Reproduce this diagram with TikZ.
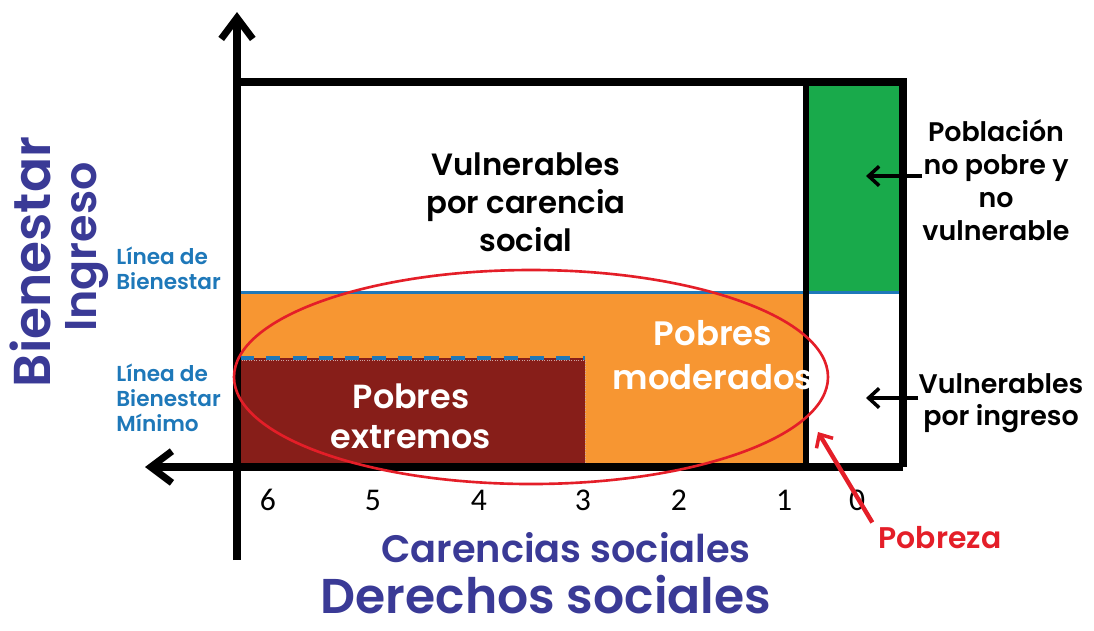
\documentclass[tikz,border=0pt]{standalone}
\usepackage{fontspec}
\setmainfont{Poppins}[UprightFont=* Medium, BoldFont=* SemiBold]
\newfontfamily\numfont{Carlito}
\usetikzlibrary{calc,arrows.meta}
\usepackage{xcolor}
\definecolor{indigo}{RGB}{58,58,150}
\definecolor{lineazul}{RGB}{30,120,185}
\definecolor{naranja}{RGB}{247,150,50}
\definecolor{vino}{RGB}{135,30,25}
\definecolor{verde}{RGB}{25,170,75}
\definecolor{rojo}{RGB}{228,30,40}
\tikzset{
  eje/.style={line width=4.5pt, -{Straight Barb[length=12pt,width=18pt,line width=4pt]}},
  flecha/.style={line width=2pt, -{Straight Barb[length=6pt,width=11pt,line width=2pt]}},
  rotulo/.style={align=center, inner sep=0pt},
  linea/.style={align=left, inner sep=0pt, text=lineazul, font=\bfseries\fontsize{12.3}{14.3}\selectfont},
  num/.style={inner sep=0pt, font=\numfont\fontsize{18}{18}\selectfont}
}

\begin{document}
\begin{tikzpicture}[x=0.02cm,y=-0.02cm]
			\useasboundingbox (0,0) rectangle (1094,630);
			\def\xl{237};
			\def\xr{903};
			\def\yt{82};
			\def\yb{467};
			\fill[naranja] (240,294) rectangle (804,465);
			\fill[vino] (240,358) rectangle (585,465);
			\draw[white!60!vino, densely dotted, thin] (240,360) rectangle (585,465);
			\draw[lineazul, line width=2.3pt, dash pattern=on 8pt off 7pt] (240,358) -- (585,358);
			\fill[verde] (808,85) rectangle (900,292);
			\draw[lineazul, line width=1.7pt] (\xl,292) -- (\xr,292);
			\draw[line width=3pt] (806,\yt) -- (806,\yb);
			\draw[line width=4.5pt] (\xl,\yt) -- (\xr,\yt) -- (\xr,\yb);
			\draw[eje] (\xl,560) -- (\xl,12);
			\draw[eje] (\xr,\yb) -- (145,\yb);
			\draw[rojo, line width=1.5pt] (531,377) ellipse [x radius=297, y radius=107];
			% textos
			\node[rotulo, font=\bfseries\fontsize{17.5}{21.5}\selectfont] (vulncar) at (526,202) {Vulnerables\\por carencia\\social};
			\node[rotulo, font=\bfseries\fontsize{15.3}{18.8}\selectfont] (nopobre) at (996,180) {Población\\no pobre y\\no\\vulnerable};
			\node[rotulo, font=\bfseries\fontsize{15.3}{18.5}\selectfont] (vulning) at (1001,403) {Vulnerables\\por ingreso};
			\node[rotulo, text=white, font=\bfseries\fontsize{19.3}{25}\selectfont] (moderados) at (713,355) {Pobres\\moderados};
			\node[rotulo, text=white, font=\bfseries\fontsize{19}{23}\selectfont] (extremos) at (411,416) {Pobres\\extremos};
			\node[linea, anchor=west] (lbien) at (116,268) {Línea de\\Bienestar};
			\node[linea, anchor=west] (lmin) at (116,398) {Línea de\\Bienestar\\Mínimo};
			\node[rotulo, text=indigo, rotate=90, font=\bfseries\fontsize{29.5}{29.5}\selectfont] (bienestar) at (30,262) {Bienestar};
			\node[rotulo, text=indigo, rotate=90, font=\bfseries\fontsize{25.3}{25.3}\selectfont] (ingreso) at (87,247) {Ingreso};
			\node[rotulo, text=indigo, font=\bfseries\fontsize{21.8}{21.8}\selectfont] (carencias) at (566,548) {Carencias sociales};
			\node[rotulo, text=indigo, font=\bfseries\fontsize{27.8}{27.8}\selectfont] (derechos) at (546,595) {Derechos sociales};
			\node[rotulo, text=rojo, font=\bfseries\fontsize{17}{17}\selectfont] (pobreza) at (940,538) {Pobreza};
			\foreach \n/\x in {6/268,5/373,4/479,3/583,2/679,1/784,0/857}
				\node[num] (c\n) at (\x,500) {\n};
			% flechas
			\coordinate (pverde) at (866,176);
			\coordinate (pblanco) at (866,398);
			\coordinate (pelipse) at (818,432);
			\draw[flecha] (nopobre.west |- pverde) -- (pverde);
			\draw[flecha] (vulning.west |- pblanco) -- (pblanco);
			\draw[flecha, rojo, line width=2.5pt] ($(pobreza.north west)+(-6,-4)$) -- (pelipse);
\end{tikzpicture}
\end{document}
